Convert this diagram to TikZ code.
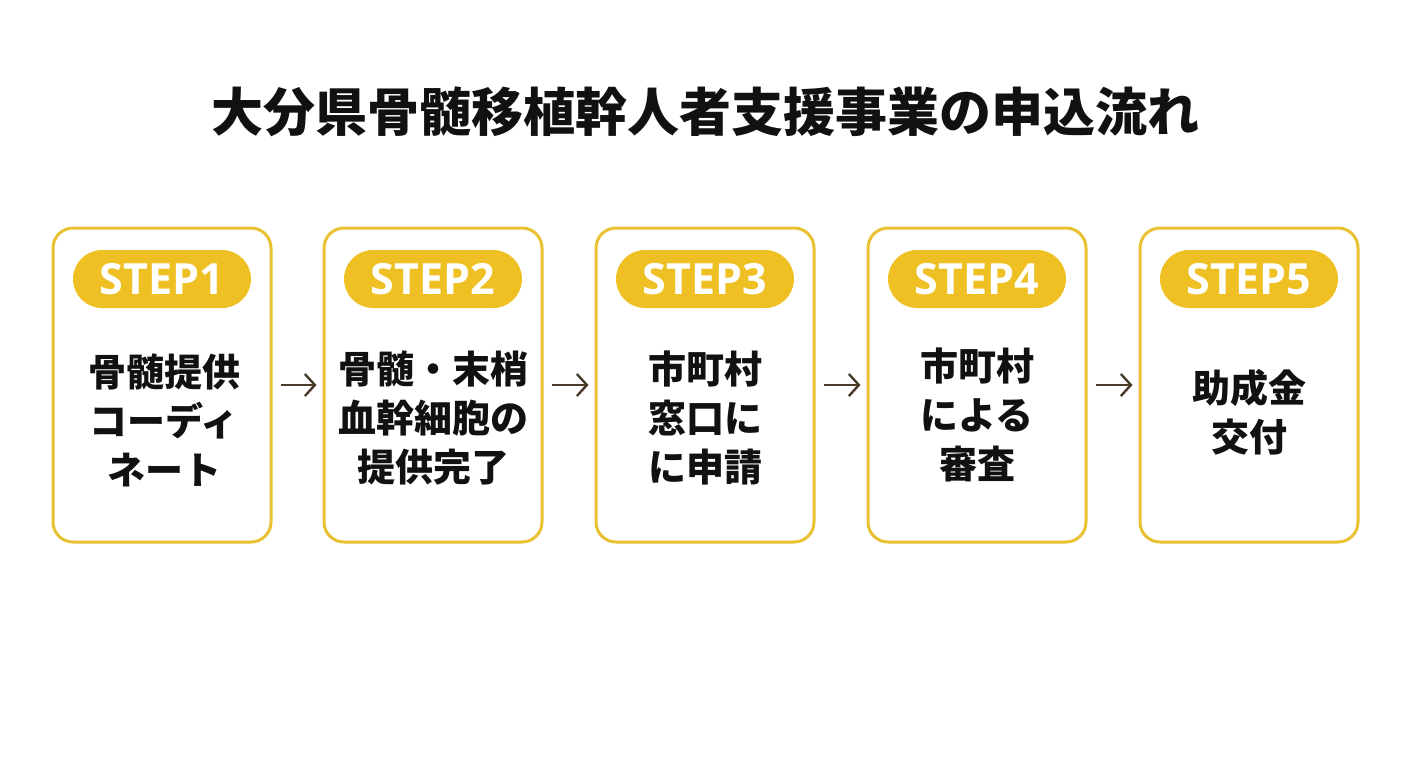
\documentclass[tikz,border=0pt]{standalone}
\usepackage{fontspec}
\usepackage{xcolor}
\usetikzlibrary{arrows.meta}
\newfontfamily\jpfont{Noto Sans CJK JP}
\newfontfamily\stepfont{Open Sans}
\definecolor{BorderColor}{HTML}{E8C233}
\definecolor{PillColor}{HTML}{EFC024}
\definecolor{ArrowColor}{HTML}{4A3C2C}
\definecolor{TextColor}{HTML}{111111}
\tikzset{
  stepbox/.style={draw=BorderColor, line width=1.5pt, rounded corners=10pt,
    fill=white, minimum width=109pt, minimum height=157pt},
  steppill/.style={fill=PillColor, rounded corners=14.5pt, minimum width=89pt,
    minimum height=29pt, text=white, font=\stepfont\bfseries\fontsize{21.5}{24}\selectfont},
  steptext/.style={align=center, text=TextColor,
    font=\jpfont\bfseries\fontsize{19}{24.5}\selectfont},
  flowarrow/.style={draw=ArrowColor, line width=1.2pt,
    -{Straight Barb[length=5pt,width=11pt]}, shorten <=4pt, shorten >=3pt}
}
\begin{document}
\begin{tikzpicture}[x=0.5pt, y=-0.5pt]
  \fill[white] (0,0) rectangle (1408,768);
  \useasboundingbox (0,0) rectangle (1408,768);
  \node[text=TextColor, font=\jpfont\bfseries\fontsize{26}{30}\selectfont] (title) at (705,112) {大分県骨髄移植幹人者支援事業の申込流れ};

  \node[stepbox] (box1) at (162,385) {};
  \node[stepbox] (box2) at (433,385) {};
  \node[stepbox] (box3) at (705,385) {};
  \node[stepbox] (box4) at (977,385) {};
  \node[stepbox] (box5) at (1249,385) {};

  \node[steppill] (pill1) at (162,279) {STEP1};
  \node[steppill] (pill2) at (433,279) {STEP2};
  \node[steppill] (pill3) at (705,279) {STEP3};
  \node[steppill] (pill4) at (977,279) {STEP4};
  \node[steppill] (pill5) at (1249,279) {STEP5};

  \node[steptext] (text1) at (164,420) {骨髄提供\\コーディ\\ネート};
  \node[steptext] (text2) at (433,418) {骨髄・末梢\\血幹細胞の\\提供完了};
  \node[steptext] (text3) at (705,418) {市町村\\窓口に\\に申請};
  \node[steptext] (text4) at (977,415) {市町村\\による\\審査};
  \node[steptext] (text5) at (1249,412) {助成金\\交付};

  \draw[flowarrow] (box1.east) -- (box2.west);
  \draw[flowarrow] (box2.east) -- (box3.west);
  \draw[flowarrow] (box3.east) -- (box4.west);
  \draw[flowarrow] (box4.east) -- (box5.west);
\end{tikzpicture}
\end{document}
